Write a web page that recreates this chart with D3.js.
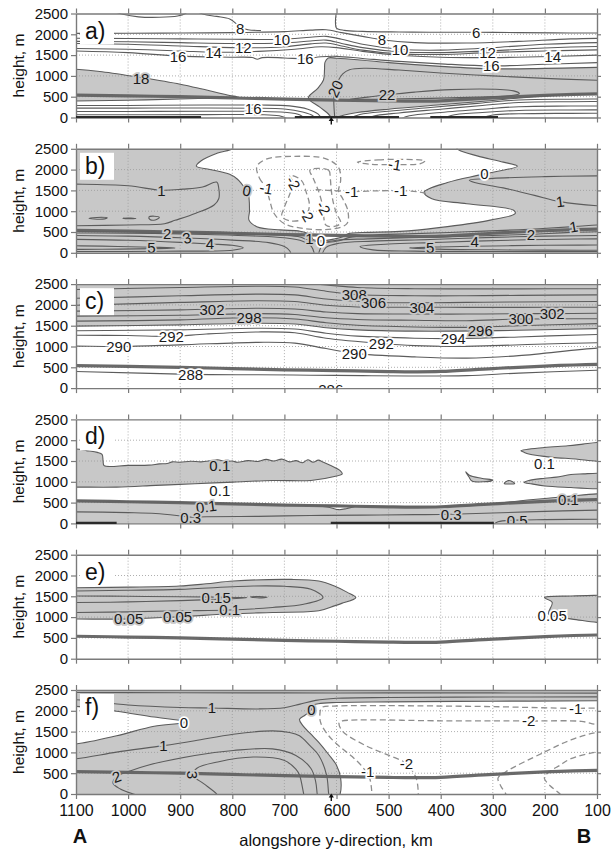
<!DOCTYPE html>
<html>
<head>
<meta charset="utf-8">
<script src="https://cdn.jsdelivr.net/npm/d3@7/dist/d3.min.js"></script>
<style>
  body { margin: 0; background: #fff; }
  text { font-family: "Liberation Sans", Arial, Helvetica, sans-serif; }
</style>
</head>
<body>
<svg id="chart" width="611" height="851"></svg>
<script>
// ---------- axes ----------
const kmTicks = [1100, 1000, 900, 800, 700, 600, 500, 400, 300, 200, 100];
const heightTicks = [0, 500, 1000, 1500, 2000, 2500];
const panelLetters = ["a)", "b)", "c)", "d)", "e)", "f)"];
const arrowKm = 610;

// top of the marine boundary layer (thick line), km / m
const inversionLine = [[1150,545],[1100,540],[1000,520],[900,500],[800,470],[700,440],[600,420],[500,398],[450,392],[400,400],[300,470],[200,530],[100,570],[50,575]];

// ---------- panel a ----------
const a_top6 = [[600,2560],[602,2300],[600,2150],[585,2095],[550,2070],[480,2055],[420,2048],[332,2050],[250,2040],[150,2032],[50,2029]];
const a_top8a = [[1030,2560],[1010,2480],[980,2420],[940,2410],[905,2440],[890,2500],[885,2560]];
const a_top8b = [[870,2560],[855,2480],[830,2430],[805,2370],[792,2250],[785,2160],[770,2110],[745,2090]];
const a_u8  = [[1150,2020],[1000,2025],[900,2030],[800,2040],[700,2065],[650,2100],[620,2110],[590,2040],[550,1950],[513,1868],[450,1800],[350,1790],[250,1830],[150,1890],[50,1909]];
const a_u10 = [[1150,1905],[1000,1900],[900,1890],[800,1880],[705,1880],[650,1930],[620,1950],[590,1880],[550,1760],[478,1640],[400,1620],[300,1680],[200,1760],[100,1800],[50,1804]];
const a_u11 = [[1150,1834],[1000,1820],[900,1800],[800,1780],[700,1790],[650,1840],[620,1860],[590,1780],[550,1680],[480,1580],[400,1560],[300,1605],[200,1670],[100,1705],[50,1708]];
const a_u12 = [[1150,1786],[1000,1760],[900,1720],[779,1675],[700,1700],[650,1770],[620,1790],[590,1720],[550,1620],[480,1530],[400,1515],[310,1560],[200,1600],[100,1625],[50,1628]];
const a_u14 = [[1150,1665],[1000,1640],[900,1600],[836,1568],[750,1590],[680,1640],[630,1700],[600,1680],[550,1590],[480,1495],[400,1450],[300,1440],[185,1467],[100,1500],[50,1508]];
const a_u16 = [[1150,1610],[1000,1560],[904,1475],[800,1450],[762,1442],[752,1400],[742,1440],[700,1432],[660,1412],[630,1460],[600,1470],[550,1420],[480,1350],[400,1290],[303,1240],[200,1280],[100,1320],[50,1330]];
const a_18left = [[1150,1180],[1100,1160],[1050,1100],[975,960],[900,800],[860,690],[830,600],[805,530],[790,495],[830,470],[900,445],[1000,415],[1100,395],[1150,390]];
const a_18right = [[50,1210],[100,1205],[200,1180],[300,1170],[400,1230],[500,1320],[560,1390],[600,1425],[616,1430],[622,1330],[623,1150],[625,900],[636,700],[654,470],[632,250],[616,90],[610,0],[606,-40],[600,0],[585,60],[560,120],[500,200],[400,305],[300,410],[250,470],[200,520],[150,555],[100,570],[50,578]];
const a_20 = [[603,-50],[604,100],[605,300],[605,500],[602,700],[596,900],[588,1050],[575,1150],[545,1185],[480,1140],[400,1070],[300,1000],[200,940],[100,895],[50,885]];
const a_22 = [[575,440],[540,490],[503,545],[450,610],[380,670],[300,680],[260,640],[249,575],[270,520],[330,490],[420,460],[500,445]];
const a_l17 = [[1150,290],[1000,290],[850,300],[750,300],[690,280],[655,200],[635,80],[628,-50]];
const a_l16 = [[1150,225],[1000,225],[850,230],[760,224],[700,205],[665,130],[645,40],[640,-50]];
const a_l15 = [[1150,145],[1000,145],[850,150],[750,148],[700,125],[670,60],[660,-50]];
const a_l14 = [[1150,65],[1000,65],[850,70],[750,68],[710,40],[690,-50]];
const a_r17 = [[50,445],[150,440],[250,420],[330,340],[420,240],[500,150],[555,70],[580,-50]];
const a_r16 = [[50,385],[150,380],[250,360],[320,290],[400,200],[480,110],[530,30],[545,-50]];
const a_r15 = [[50,280],[150,275],[250,260],[320,200],[400,120],[460,40],[480,-50]];
const a_r14 = [[50,185],[150,180],[250,170],[320,120],[380,50],[400,-50]];
const a_r13 = [[50,105],[150,100],[250,90],[300,60],[330,-50]];
const a_surface = [[1100,860],[680,480],[420,290]];

// ---------- panel b ----------
const b_zero = [[801,2560],[801,2500],[828,2397],[861,2201],[869,2083],[843,2004],[805,1886],[790,1769],[779,1611],[770,1490],[768,1336],[767,1000],[768,786],[753,629],[708,550],[670,520],[650,430],[645,320],[628,290],[605,330],[588,385],[578,460],[540,492],[500,502],[462,527],[387,629],[305,786],[257,943],[260,1022],[350,1179],[417,1297],[432,1454],[387,1690],[320,1886],[253,2083],[280,2180],[330,2330],[365,2470],[372,2560]];
const b_1left = [[1150,1650],[1100,1650],[1000,1611],[936,1505],[895,1530],[857,1580],[830,1700],[826,1550],[826,1300],[835,1150],[870,950],[910,780],[930,700],[1000,670],[1100,650],[1150,645]];
const b_blob1 = [[1075,830],[1060,850],[1040,840],[1045,815],[1065,812]];
const b_blob2 = [[1010,830],[995,836],[985,825],[1000,819]];
const b_blob3 = [[960,860],[950,880],[940,850],[948,790],[958,800]];
const b_1right = [[50,1850],[100,1850],[200,1830],[300,1790],[345,1745],[335,1690],[280,1560],[220,1380],[171,1230],[100,1130],[50,1110]];
const b_1low = [[1150,520],[1000,505],[900,485],[800,460],[700,420],[670,380],[657,320],[640,270],[615,255],[595,290],[575,370],[540,420],[450,460],[350,505],[250,555],[145,629],[100,670],[50,700]];
const b_2left = [[1150,480],[1000,470],[925,462],[850,440],[760,405],[700,360],[665,280],[648,150],[642,-50]];
const b_3left = [[1150,420],[1000,400],[887,355],[800,305],[730,245],[700,150],[690,50],[687,-50]];
const b_4left = [[1150,330],[1000,300],[900,250],[843,210],[800,180],[779,120],[800,60],[900,40],[1000,32],[1150,30]];
const b_5left = [[1150,175],[1050,160],[955,135],[910,118],[951,100],[1050,85],[1150,80]];
const b_5right = [[50,190],[200,180],[300,165],[406,140],[460,115],[406,88],[300,72],[200,65],[50,60]];
const b_4right = [[50,340],[200,320],[335,280],[420,245],[500,210],[555,150],[530,70],[450,40],[300,30],[50,28]];
const b_3right = [[50,420],[200,400],[300,370],[420,320],[530,280],[595,230],[620,130],[628,-50]];
const b_2right = [[50,520],[150,490],[227,445],[300,415],[420,375],[540,335],[600,300],[625,220],[635,-50]];
const b_m1big = [[753,2075],[748,1800],[735,1554],[728,1250],[720,950],[700,700],[660,580],[610,570],[580,700],[578,1000],[588,1300],[596,1480],[592,1750],[596,2050],[620,2260],[680,2320],[735,2250]];
const b_m1mid = [[640,1520],[600,1490],[571,1474],[520,1490],[477,1493],[445,1470],[425,1420]];
const b_m1top = [[560,2180],[520,2235],[470,2245],[430,2210],[440,2140],[488,2122],[535,2130]];
const b_m2a = [[690,1860],[683,1675],[690,1400],[700,1100],[705,870],[690,770],[665,800],[657,913],[652,1150],[658,1450],[668,1750]];
const b_m2b = [[651,1990],[615,1985],[612,1800],[610,1500],[606,1200],[600,950],[592,720],[602,640],[620,660],[625,900],[628,1200],[635,1500],[645,1800]];

// ---------- panel c ----------
const c_310 = [[700,2560],[620,2480],[560,2420],[450,2390],[350,2385],[250,2385],[100,2390],[50,2390]];
const c_308 = [[1150,2370],[1100,2370],[900,2420],[750,2450],[680,2430],[620,2330],[566,2250],[450,2220],[350,2220],[250,2230],[100,2240],[50,2240]];
const c_306 = [[1150,2160],[1100,2160],[900,2220],[750,2260],[680,2240],[620,2140],[529,2064],[450,2050],[350,2060],[250,2070],[100,2080],[50,2080]];
const c_304 = [[1150,1990],[1100,1990],[900,2060],[750,2100],[680,2080],[620,1990],[560,1950],[436,1945],[350,1940],[250,1940],[100,1945],[50,1945]];
const c_302 = [[1150,1850],[1100,1850],[900,1880],[750,1920],[680,1900],[620,1830],[560,1790],[450,1780],[350,1780],[250,1790],[186,1790],[100,1800],[50,1800]];
const c_300 = [[1150,1730],[1100,1730],[900,1750],[750,1790],[680,1770],[620,1690],[560,1650],[450,1630],[350,1620],[246,1660],[100,1667],[50,1670]];
const c_298 = [[1150,1610],[1100,1610],[900,1640],[768,1690],[680,1660],[620,1570],[560,1510],[450,1470],[350,1460],[250,1500],[100,1550],[50,1555]];
const c_296 = [[1150,1490],[1100,1490],[900,1520],[750,1560],[680,1540],[620,1450],[560,1400],[450,1370],[324,1375],[250,1390],[100,1430],[50,1430]];
const c_294 = [[1150,1380],[1100,1380],[900,1400],[750,1440],[680,1420],[620,1320],[560,1250],[450,1200],[376,1191],[250,1230],[100,1290],[50,1295]];
const c_292 = [[1150,1270],[1100,1270],[1000,1265],[917,1245],[850,1300],[750,1350],[680,1330],[620,1200],[514,1072],[450,1020],[380,1000],[300,1020],[200,1060],[100,1090],[50,1095]];
const c_290 = [[1150,1010],[1100,1010],[1018,1000],[900,1040],[750,1100],[680,1080],[620,950],[566,834],[450,750],[350,720],[250,780],[100,960],[50,970]];
const c_288 = [[1150,400],[1100,400],[880,330],[750,320],[650,310],[550,300],[450,290],[350,300],[250,360],[100,430],[50,440]];
const c_286 = [[660,-80],[611,-20],[560,-80]];

// ---------- panel d ----------
const d_bandLeft = [[1150,1790],[1100,1787],[1080,1750],[1059,1707],[1050,1660],[1048,1500],[1046,1389],[1000,1395],[960,1400],[940,1430],[925,1440],[915,1480],[900,1470],[880,1495],[860,1480],[840,1510],[828,1530],[815,1490],[800,1500],[790,1470],[770,1510],[750,1490],[735,1540],[720,1500],[705,1545],[690,1480],[678,1510],[665,1460],[655,1530],[645,1470],[635,1520],[625,1470],[611,1390],[593,1270],[589,1190],[604,1127],[649,1032],[723,1032],[798,993],[872,953],[947,913],[1022,873],[1100,873],[1150,870]];
const d_rightTop = [[50,1960],[100,1945],[127,1906],[156,1866],[201,1826],[246,1747],[240,1710],[231,1667],[186,1588],[141,1548],[100,1493],[50,1490]];
const d_rightMid = [[50,1210],[100,1207],[126,1191],[150,1175],[178,1112],[200,1085],[231,1032],[240,985],[225,950],[200,900],[150,862],[100,834],[50,830]];
const d_blob1 = [[352,1240],[346,1120],[340,1020],[318,1000],[300,1040],[322,1085],[345,1160]];
const d_blob2 = [[278,960],[270,1030],[262,1000],[258,960]];
const d_lower = [[1150,550],[1100,545],[1000,525],[900,505],[800,475],[700,445],[600,425],[500,405],[400,405],[300,470],[250,540],[200,600],[155,650],[100,710],[50,720]];
const d_pocket = [[640,420],[615,390],[595,330],[580,360],[565,405],[600,418]];
const d_03 = [[1150,285],[1100,278],[1000,260],[947,238],[900,180],[880,150],[850,160],[750,170],[650,190],[550,200],[450,210],[380,220],[300,250],[200,290],[100,318],[50,320]];
const d_05 = [[300,-50],[290,40],[253,79],[200,90],[100,100],[50,100]];
const d_surface = [[1100,1022],[611,298]];

// ---------- panel e ----------
const e_005left = [[1150,1710],[1100,1707],[1000,1720],[902,1747],[850,1800],[798,1866],[686,1906],[634,1866],[604,1747],[580,1600],[563,1469],[590,1330],[604,1270],[634,1151],[723,1112],[800,1080],[905,1005],[999,955],[1100,953],[1150,950]];
const e_01 = [[1150,1630],[1100,1628],[1000,1645],[902,1667],[760,1747],[700,1740],[649,1667],[626,1469],[663,1310],[723,1231],[805,1170],[902,1151],[1000,1125],[1100,1112],[1150,1110]];
const e_015 = [[1150,1510],[1100,1509],[1000,1500],[900,1490],[831,1480],[785,1472],[772,1466],[785,1452],[831,1425],[900,1395],[1000,1365],[1100,1350],[1150,1350]];
const e_015b = [[765,1485],[748,1496],[733,1480],[748,1462]];
const e_005right = [[50,1530],[100,1524],[149,1509],[201,1469],[186,1350],[193,1072],[171,993],[140,940],[100,873],[50,865]];

// ---------- panel f ----------
const f_top = [[1150,2440],[900,2435],[700,2430],[500,2430],[300,2430],[100,2425],[50,2425]];
const f_wedge0 = [[1150,2130],[1100,2107],[1022,1989],[950,1850],[895,1760],[888,1730],[900,1700],[950,1630],[1022,1400],[1100,1203],[1150,1180]];
const f_1up = [[1150,2280],[1100,2264],[1000,2140],[900,2080],[839,2067],[750,2045],[700,2075],[670,2160],[640,2250],[600,2300],[500,2320],[300,2330],[100,2335],[50,2335]];
const f_zeroRight = [[50,2245],[100,2240],[300,2230],[500,2215],[600,2200],[635,2170],[650,2110],[648,2028],[660,1900],[671,1792],[665,1650],[650,1450],[634,1242],[615,950],[600,692],[592,377],[593,0],[595,-50]];
const f_1low = [[1150,830],[1100,849],[1022,1006],[932,1163],[872,1281],[798,1438],[723,1517],[690,1480],[671,1399],[650,1150],[634,927],[619,456],[615,0],[614,-50]];
const f_2 = [[973,-50],[990,0],[1015,120],[1029,259],[1022,417],[995,560],[962,692],[872,927],[798,1045],[723,1085],[678,927],[649,613],[640,300],[637,0],[636,-50]];
const f_3 = [[828,-50],[830,0],[855,250],[876,456],[868,620],[828,770],[760,888],[701,810],[678,600],[671,456],[663,0],[662,-50]];
const f_m1a = [[50,2080],[141,2060],[300,2100],[450,2120],[550,2125],[600,2115],[628,2080],[632,1900],[630,1700],[615,1400],[595,1150],[570,900],[550,650],[537,400],[533,150],[532,-50]];
const f_m2a = [[50,1660],[100,1670],[130,1745],[231,1755],[400,1760],[589,1755],[595,1713],[589,1517],[544,1163],[499,927],[466,731],[447,377],[443,0],[443,-50]];
const f_m2b = [[50,1480],[100,1478],[150,1300],[201,1006],[275,534],[290,380],[285,200],[275,0],[274,-50]];
const f_m1b = [[50,1010],[100,1006],[150,850],[171,692],[195,500],[201,377],[190,200],[171,0],[168,-50]];

// ---------- styles ----------
const GRAY = "#c8c8c8";
const WHITE = "#ffffff";
const LINE = "#5c5c5c";
const DASH = "#8e8e8e";

const panels = [
  { background: WHITE,
    fills: [ {pts: a_18left, color: GRAY}, {pts: a_18right, corners: [[0,578],[0,1210]], color: GRAY} ],
    lines: [
      {level: 6, pts: a_top6, labels: [[332,2050,0]]},
      {level: 8, pts: a_top8a}, {level: 8, pts: a_top8b, labels: [[785,2140,0]]},
      {level: 8, pts: a_u8, labels: [[513,1868,0]]},
      {level: 10, pts: a_u10, labels: [[705,1880,0],[478,1640,0]]},
      {level: 11, pts: a_u11},
      {level: 12, pts: a_u12, labels: [[779,1675,0],[310,1560,0]]},
      {level: 14, pts: a_u14, labels: [[836,1568,0],[185,1467,0]]},
      {level: 16, pts: a_u16, labels: [[904,1475,0],[660,1412,0],[303,1240,0]]},
      {level: 18, pts: a_18left, labels: [[975,930,0]]},
      {level: 18, pts: a_18right},
      {level: 20, pts: a_20, labels: [[602,690,-65]]},
      {level: 22, pts: a_22, closed: true, labels: [[503,545,0]]},
      {level: 17, pts: a_l17}, {level: 16, pts: a_l16, labels: [[760,224,0]]},
      {level: 15, pts: a_l15}, {level: 14, pts: a_l14},
      {level: 17, pts: a_r17}, {level: 16, pts: a_r16}, {level: 15, pts: a_r15},
      {level: 14, pts: a_r14}, {level: 13, pts: a_r13}
    ],
    surface: a_surface, arrow: true },
  { background: GRAY,
    fills: [ {pts: b_zero, color: WHITE} ],
    lines: [
      {level: 0, pts: b_zero, labels: [[772,1493,10],[316,1900,0],[630,300,0]]},
      {level: 1, pts: b_1left, labels: [[936,1505,0]]},
      {level: 1, pts: b_blob1, closed: true}, {level: 1, pts: b_blob2, closed: true}, {level: 1, pts: b_blob3, closed: true},
      {level: 1, pts: b_1right, labels: [[171,1230,-8]]},
      {level: 1, pts: b_1low, labels: [[652,330,0],[145,629,-10]]},
      {level: 2, pts: b_2left, labels: [[925,462,0]]},
      {level: 3, pts: b_3left, labels: [[887,355,-15]]},
      {level: 4, pts: b_4left, labels: [[843,210,0]]},
      {level: 5, pts: b_5left, labels: [[955,125,0]]},
      {level: 5, pts: b_5right, labels: [[420,125,0]]},
      {level: 4, pts: b_4right, labels: [[335,280,0]]},
      {level: 3, pts: b_3right},
      {level: 2, pts: b_2right, labels: [[227,445,0]]},
      {level: -1, pts: b_m1big, closed: true, dashed: true, labels: [[735,1554,10]]},
      {level: -1, pts: b_m1mid, dashed: true, labels: [[571,1474,0],[477,1493,0]]},
      {level: -1, pts: b_m1top, closed: true, dashed: true, labels: [[488,2122,10]]},
      {level: -2, pts: b_m2a, closed: true, dashed: true, labels: [[683,1675,60],[657,913,60]]},
      {level: -2, pts: b_m2b, closed: true, dashed: true, labels: [[625,1075,60]]}
    ] },
  { background: WHITE,
    fills: [ {pts: c_296, corners: [[50,2600],[1150,2600]], color: GRAY} ],
    lines: [
      {level: 310, pts: c_310},
      {level: 308, pts: c_308, labels: [[566,2250,0]]},
      {level: 306, pts: c_306, labels: [[529,2064,0]]},
      {level: 304, pts: c_304, labels: [[436,1945,0]]},
      {level: 302, pts: c_302, labels: [[839,1880,0],[186,1790,0]]},
      {level: 300, pts: c_300, labels: [[246,1660,0]]},
      {level: 298, pts: c_298, labels: [[768,1690,0]]},
      {level: 296, pts: c_296, labels: [[324,1375,0]]},
      {level: 294, pts: c_294, labels: [[376,1191,0]]},
      {level: 292, pts: c_292, labels: [[917,1245,0],[514,1072,0]]},
      {level: 290, pts: c_290, labels: [[1018,1000,0],[566,834,0]]},
      {level: 288, pts: c_288, labels: [[880,330,0]]},
      {level: 286, pts: c_286, labels: [[611,-35,0]]}
    ] },
  { background: WHITE,
    fills: [ {pts: d_bandLeft, color: GRAY}, {pts: d_rightTop, color: GRAY}, {pts: d_rightMid, color: GRAY},
             {pts: d_blob1, closed: true, color: GRAY}, {pts: d_blob2, closed: true, color: GRAY},
             {pts: d_lower, corners: [[50,-100],[1150,-100]], color: GRAY},
             {pts: d_pocket, closed: true, color: WHITE} ],
    lines: [
      {level: 0.1, pts: d_bandLeft, labels: [[824,1389,0],[824,800,0]]},
      {level: 0.1, pts: d_rightTop, labels: [[201,1429,0]]},
      {level: 0.1, pts: d_rightMid},
      {level: 0.1, pts: d_blob1, closed: true}, {level: 0.1, pts: d_blob2, closed: true},
      {level: 0.1, pts: d_lower, labels: [[850,400,-8],[155,580,0]]},
      {level: 0.1, pts: d_pocket, closed: true},
      {level: 0.3, pts: d_03, labels: [[880,135,0],[380,215,0]]},
      {level: 0.5, pts: d_05, labels: [[253,75,0]]}
    ],
    surface: d_surface },
  { background: WHITE,
    fills: [ {pts: e_005left, color: GRAY}, {pts: e_005right, color: GRAY} ],
    lines: [
      {level: 0.05, pts: e_005left, labels: [[999,955,0],[905,1005,0]]},
      {level: 0.1, pts: e_01, labels: [[805,1170,0]]},
      {level: 0.15, pts: e_015, labels: [[831,1470,0]]},
      {level: 0.15, pts: e_015b, closed: true},
      {level: 0.05, pts: e_005right, labels: [[186,1040,0]]}
    ] },
  { background: GRAY,
    fills: [ {pts: f_wedge0, color: WHITE}, {pts: f_zeroRight, corners: [[40,-80]], color: WHITE} ],
    lines: [
      {level: 1, pts: f_top},
      {level: 0, pts: f_wedge0, labels: [[893,1725,0]]},
      {level: 1, pts: f_1up, labels: [[839,2067,0]]},
      {level: 0, pts: f_zeroRight, labels: [[648,2028,0]]},
      {level: 1, pts: f_1low, labels: [[932,1163,0]]},
      {level: 2, pts: f_2, labels: [[1022,417,-20]]},
      {level: 3, pts: f_3, labels: [[876,456,90]]},
      {level: -1, pts: f_m1a, dashed: true, labels: [[141,2050,0],[540,535,0]]},
      {level: -2, pts: f_m2a, dashed: true, labels: [[231,1755,0],[466,731,0]]},
      {level: -2, pts: f_m2b, dashed: true},
      {level: -1, pts: f_m1b, dashed: true}
    ],
    arrow: true }
];

// ---------- layout ----------
const svg = d3.select("#chart");
const plotLeft = 76, plotRight = 597;
const panelTop0 = 13.5, panelStep = 135.3, panelH = 104;

const x = d3.scaleLinear().domain([1100, 100]).range([plotLeft, plotRight]);

function backgroundAt(p, pt) {
  let c = p.background;
  p.fills.forEach(f => {
    const poly = f.corners ? f.pts.concat(f.corners) : f.pts;
    if (d3.polygonContains(poly, pt)) c = f.color;
  });
  return c;
}

panels.forEach((p, i) => {
  const top = panelTop0 + i * panelStep;
  const bottom = top + panelH;
  const y = d3.scaleLinear().domain([0, 2500]).range([bottom, top]);
  const g = svg.append("g");

  const clipId = "plotclip" + i;
  svg.append("clipPath").attr("id", clipId)
    .append("rect").attr("x", plotLeft).attr("y", top)
    .attr("width", plotRight - plotLeft).attr("height", panelH);
  const inner = g.append("g").attr("clip-path", `url(#${clipId})`);

  const open = d3.line().x(d => x(d[0])).y(d => y(d[1])).curve(d3.curveCatmullRom.alpha(0.5));
  const loop = d3.line().x(d => x(d[0])).y(d => y(d[1])).curve(d3.curveCatmullRomClosed.alpha(0.5));

  inner.append("rect").attr("x", plotLeft).attr("y", top)
    .attr("width", plotRight - plotLeft).attr("height", panelH).attr("fill", p.background);

  p.fills.forEach(f => {
    let d;
    if (f.closed) d = loop(f.pts);
    else d = open(f.pts) + (f.corners || []).map(c => `L${x(c[0])},${y(c[1])}`).join("") + "Z";
    inner.append("path").attr("d", d).attr("fill", f.color).attr("stroke", "none");
  });

  // dotted grid
  kmTicks.slice(1, -1).forEach(k => {
    inner.append("line").attr("x1", x(k)).attr("x2", x(k)).attr("y1", top).attr("y2", bottom)
      .attr("stroke", "#9a9a9a").attr("stroke-width", 0.8).attr("stroke-dasharray", "1,2");
  });
  heightTicks.slice(1, -1).forEach(h => {
    inner.append("line").attr("x1", plotLeft).attr("x2", plotRight).attr("y1", y(h)).attr("y2", y(h))
      .attr("stroke", "#9a9a9a").attr("stroke-width", 0.8).attr("stroke-dasharray", "1,2");
  });

  // contour lines
  p.lines.forEach(l => {
    inner.append("path")
      .attr("d", l.closed ? loop(l.pts) : open(l.pts))
      .attr("fill", "none")
      .attr("stroke", l.dashed ? DASH : LINE)
      .attr("stroke-width", l.dashed ? 1.3 : 1.1)
      .attr("stroke-dasharray", l.dashed ? "6,3.5" : null);
  });

  // boundary-layer top
  inner.append("path").attr("d", open(inversionLine)).attr("fill", "none")
    .attr("stroke", "#626262").attr("stroke-width", 3.2).attr("stroke-opacity", 0.95);

  // contour labels
  p.lines.forEach(l => {
    (l.labels || []).forEach(lb => {
      const bg = backgroundAt(p, [lb[0], lb[1]]);
      inner.append("text")
        .attr("transform", `translate(${x(lb[0])},${y(lb[1])}) rotate(${lb[2] || 0})`)
        .attr("text-anchor", "middle").attr("dy", "0.36em")
        .attr("font-size", 15).attr("fill", "#1a1a1a")
        .attr("stroke", bg).attr("stroke-width", 3.5).attr("paint-order", "stroke")
        .text(String(l.level));
    });
  });

  // axes
  const isLast = i === panels.length - 1;
  const axB = g.append("g").attr("transform", `translate(0,${bottom})`)
    .call(d3.axisBottom(x).tickValues(kmTicks).tickSize(5).tickSizeOuter(0)
      .tickFormat(isLast ? d3.format("d") : () => ""));
  const axT = g.append("g").attr("transform", `translate(0,${top})`)
    .call(d3.axisTop(x).tickValues(kmTicks).tickSize(5).tickSizeOuter(0).tickFormat(() => ""));
  const axL = g.append("g").attr("transform", `translate(${plotLeft},0)`)
    .call(d3.axisLeft(y).tickValues(heightTicks).tickSize(5).tickSizeOuter(0).tickFormat(d3.format("d")));
  const axR = g.append("g").attr("transform", `translate(${plotRight},0)`)
    .call(d3.axisRight(y).tickValues(heightTicks).tickSize(4).tickSizeOuter(0).tickFormat(() => ""));
  [axB, axT, axL, axR].forEach(a => {
    a.select(".domain").attr("stroke", "#7a7a7a").attr("stroke-width", 1.4);
    a.selectAll(".tick line").attr("stroke", "#7a7a7a").attr("stroke-width", 1.2);
  });
  axL.selectAll(".tick text").attr("font-size", 15).attr("fill", "#111").attr("x", -8)
    .attr("font-family", '"Liberation Sans", Arial, sans-serif');
  if (isLast) {
    axB.selectAll(".tick text").attr("font-size", 16).attr("fill", "#111").attr("y", 11)
      .attr("font-family", '"Liberation Sans", Arial, sans-serif');
  }

  // dark ground segments
  (p.surface || []).forEach(s => {
    g.append("line").attr("x1", x(s[0])).attr("x2", x(s[1])).attr("y1", bottom - 0.5).attr("y2", bottom - 0.5)
      .attr("stroke", "#2a2a2a").attr("stroke-width", 2.2);
  });

  // location marker
  if (p.arrow) {
    const ax = x(arrowKm);
    g.append("line").attr("x1", ax).attr("x2", ax).attr("y1", bottom + 1).attr("y2", bottom + 7)
      .attr("stroke", "#111").attr("stroke-width", 1.4);
    g.append("path").attr("d", `M${ax - 2.6},${bottom + 3.5}L${ax},${bottom - 0.5}L${ax + 2.6},${bottom + 3.5}Z`)
      .attr("fill", "#111");
  }

  // panel letter
  g.append("rect").attr("x", 80).attr("y", top + 4).attr("width", 34).attr("height", 27).attr("fill", "#fff");
  g.append("text").attr("x", 85).attr("y", top + 25).attr("font-size", 23).attr("fill", "#111")
    .text(panelLetters[i]);

  // y-axis title
  g.append("text").attr("transform", `translate(24,${(top + bottom) / 2}) rotate(-90)`)
    .attr("text-anchor", "middle").attr("font-size", 15.5).attr("fill", "#111").text("height, m");
});

// x-axis title and end markers
svg.append("text").attr("x", 336).attr("y", 846).attr("text-anchor", "middle")
  .attr("font-size", 16.5).attr("fill", "#111").text("alongshore y-direction, km");
svg.append("text").attr("x", 80).attr("y", 843).attr("text-anchor", "middle")
  .attr("font-size", 20).attr("font-weight", "bold").attr("fill", "#111").text("A");
svg.append("text").attr("x", 584).attr("y", 843).attr("text-anchor", "middle")
  .attr("font-size", 20).attr("font-weight", "bold").attr("fill", "#111").text("B");
</script>
</body>
</html>
